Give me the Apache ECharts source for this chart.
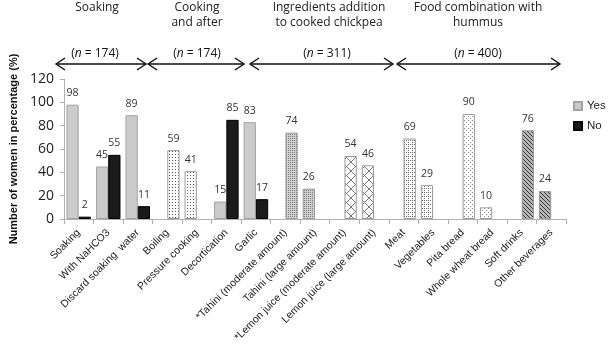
<!DOCTYPE html>
<html><head><meta charset="utf-8">
<script src="https://cdn.jsdelivr.net/npm/echarts@6/dist/echarts.min.js"></script>
<style>html,body{margin:0;padding:0;background:#fff}#c{width:608px;height:348px}</style>
</head><body><div id="c"></div>
<script>
const categories = ['Soaking','With NaHCO3','Discard soaking  water','Boiling','Pressure cooking','Decortication','Garlic','*Tahini (moderate amount)','Tahini (large amount)','*Lemon juice (moderate amount)','Lemon juice (large amount)','Meat','Vegetables','Pita bread','Whole wheat bread','Soft drinks','Other beverages'];
// Yes / No answers
const yesValues = [98,45,89,null,null,15,83,null,null,null,null,null,null,null,null,null,null];
const noValues  = [2,55,11,null,null,85,17,null,null,null,null,null,null,null,null,null,null];
// single-answer groups (first item, second item)
const cookingMethod = [59,41];   // Boiling, Pressure cooking
const tahini = [74,26];          // moderate, large
const lemonJuice = [54,46];      // moderate, large
const meatVeg = [69,29];         // Meat, Vegetables
const breads = [90,10];          // Pita bread, Whole wheat bread
const beverages = [76,24];       // Soft drinks, Other beverages
const yTicks = [0,20,40,60,80,100,120];
const sections = ['Soaking','Cooking\nand after','Ingredients addition\nto cooked chickpea','Food combination with\nhummus'];
const sampleSizes = [174,174,311,400];

function pat(w,h,bg,draw){const c=document.createElement('canvas');c.width=w;c.height=h;const g=c.getContext('2d');g.fillStyle=bg;g.fillRect(0,0,w,h);draw(g);return {image:c,repeat:'repeat'};}
function px(g,col,pts){g.fillStyle=col;pts.forEach(p=>g.fillRect(p[0],p[1],1,1));}
const patterns = {
  dots: pat(3,3,'#fff',g=>px(g,'#555',[[1,1]])),
  tahini: pat(2,2,'#cfcfcf',g=>px(g,'#7d7d7d',[[0,0]])),
  cross: pat(9,9,'#fff',g=>{g.strokeStyle='#777';g.lineWidth=1;g.beginPath();g.moveTo(0,0);g.lineTo(9,9);g.moveTo(9,0);g.lineTo(0,9);g.stroke();}),
  grid: pat(4,4,'#fff',g=>px(g,'#666',[[0,0],[2,0],[0,2]])),
  fine: pat(4,4,'#fff',g=>px(g,'#888',[[0,0],[2,2]])),
  diag: pat(4,4,'#b5b5b5',g=>px(g,'#3a3a3a',[[0,0],[1,1],[2,2],[3,3]]))
};
const groups = [
  {idx:3, values:cookingMethod, p:'dots'},
  {idx:7, values:tahini, p:'tahini'},
  {idx:9, values:lemonJuice, p:'cross'},
  {idx:11, values:meatVeg, p:'grid'},
  {idx:13, values:breads, p:'fine'},
  {idx:15, values:beverages, p:'diag'}
];
const labelCfg = {show:true, position:'top', distance:6, fontSize:10.5, color:'#333', fontFamily:'Open Sans'};
const series = [
  {name:'Yes', type:'bar', stack:'L', data:yesValues, barGap:'0%', barCategoryGap:'17%',
   itemStyle:{color:'#cbcbcb', borderColor:'#a3a3a3', borderWidth:1}, label:labelCfg},
  {name:'No', type:'bar', stack:'R', data:noValues, barGap:'0%', barCategoryGap:'17%',
   itemStyle:{color:'#1b1b1b', borderColor:'#000', borderWidth:1}, label:labelCfg}
];
groups.forEach(gr=>{
  [0,1].forEach(k=>{
    const d = categories.map(()=>null);
    d[gr.idx+k] = gr.values[k];
    series.push({name:categories[gr.idx+k], type:'bar', stack: k===0?'R':'L', data:d, barGap:'0%', barCategoryGap:'17%',
      itemStyle:{color:patterns[gr.p], borderColor:'#9a9a9a', borderWidth:1}, label:labelCfg});
  });
});

const chart = echarts.init(document.getElementById('c'), null, {renderer:'canvas'});
const option = {
  animation:false,
  textStyle:{fontFamily:'Open Sans'},
  grid:{left:53, right:42, top:79, bottom:129, containLabel:false},
  legend:{data:['Yes','No'], orient:'vertical', left:573, top:100, padding:0, itemWidth:8, itemHeight:8, itemGap:8, icon:'rect',
    textStyle:{fontSize:11.5, color:'#222', fontFamily:'Liberation Sans'}},
  xAxis:{type:'category', data:categories,
    axisLine:{lineStyle:{color:'#b0b0b0'}},
    axisTick:{show:true, alignWithLabel:false, length:5, lineStyle:{color:'#b0b0b0'}},
    axisLabel:{rotate:45, interval:0, fontSize:10.5, color:'#222', margin:12, fontFamily:'Liberation Sans'}},
  yAxis:{type:'value', min:yTicks[0], max:yTicks[yTicks.length-1], interval:20,
    name:'Number of women in percentage (%)', nameLocation:'middle', nameGap:44,
    nameTextStyle:{fontSize:11, fontWeight:'bold', color:'#111', fontFamily:'Liberation Sans'},
    axisLine:{show:true, lineStyle:{color:'#b0b0b0'}},
    axisTick:{show:true, length:4, lineStyle:{color:'#b0b0b0'}},
    splitLine:{show:false},
    axisLabel:{fontSize:14, color:'#222', margin:10, fontFamily:'Open Sans'}},
  series:series
};
chart.setOption(option);

// annotations: section titles and double arrows
const arrows = [[56,146],[148,244],[250,393],[397,560]];
const titleX = [97,197,329,478];
const nLabelX = [95,197,327,478];
const arrowY = 64;
const graphic = [];
arrows.forEach((a,i)=>{
  graphic.push({type:'line', shape:{x1:a[0], y1:arrowY, x2:a[1], y2:arrowY}, style:{stroke:'#111', lineWidth:1.4}});
  graphic.push({type:'polyline', shape:{points:[[a[0]+9,arrowY-6],[a[0],arrowY],[a[0]+9,arrowY+6]]}, style:{stroke:'#111', lineWidth:1.4, fill:null}});
  graphic.push({type:'polyline', shape:{points:[[a[1]-9,arrowY-6],[a[1],arrowY],[a[1]-9,arrowY+6]]}, style:{stroke:'#111', lineWidth:1.4, fill:null}});
  graphic.push({type:'text', x:nLabelX[i], y:arrowY-10, style:{text:'(' + '{i|n}' + ' = ' + sampleSizes[i] + ')', rich:{i:{fontStyle:'italic', fontSize:12, fontFamily:'Open Sans', fill:'#111'}}, fontSize:12, fontFamily:'Open Sans', fill:'#111', align:'center', verticalAlign:'middle'}});
  graphic.push({type:'text', x:titleX[i], y:0, style:{text:sections[i], fontSize:12, lineHeight:15, fontFamily:'Open Sans', fill:'#222', align:'center', verticalAlign:'top'}});
});
chart.setOption({graphic:graphic});
</script>
</body></html>
